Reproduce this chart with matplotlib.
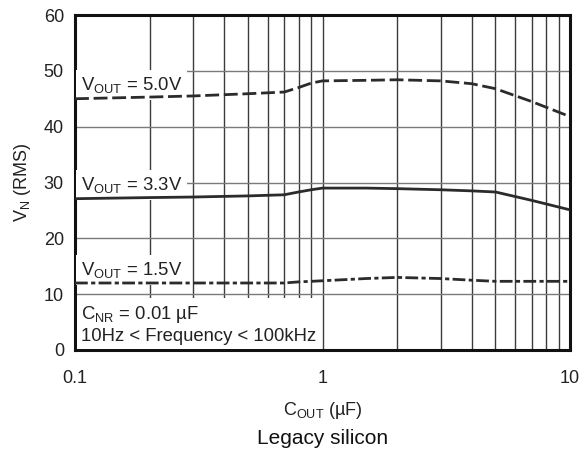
import matplotlib
matplotlib.use("Agg")
import matplotlib.pyplot as plt
from matplotlib.ticker import FixedLocator, NullFormatter, FixedFormatter

plt.rcParams['font.family'] = ['Liberation Sans', 'DejaVu Sans']
plt.rcParams['mathtext.fontset'] = 'custom'
plt.rcParams['mathtext.rm'] = 'Liberation Sans'
plt.rcParams['mathtext.it'] = 'Liberation Sans:italic'
plt.rcParams['mathtext.bf'] = 'Liberation Sans:bold'

# Data
cout = [0.1, 0.2, 0.3, 0.5, 0.7, 0.8, 0.9, 1.0, 1.5, 2.0, 3.0, 4.0, 5.0, 7.0, 10.0]
vn_50 = [45.0, 45.3, 45.5, 45.9, 46.2, 47.0, 47.8, 48.2, 48.3, 48.4, 48.2, 47.7, 46.8, 44.5, 41.8]
vn_33 = [27.1, 27.3, 27.4, 27.6, 27.8, 28.3, 28.7, 29.0, 29.0, 28.9, 28.7, 28.5, 28.3, 26.8, 25.1]
vn_15 = [12.0, 12.0, 12.0, 12.0, 12.0, 12.2, 12.3, 12.4, 12.8, 13.0, 12.8, 12.5, 12.3, 12.3, 12.3]

x_ticks = [0.1, 1, 10]
x_tick_labels = ['0.1', '1', '10']
y_ticks = [0, 10, 20, 30, 40, 50, 60]

fig = plt.figure(figsize=(5.79, 4.51), dpi=100)
ax = fig.add_axes([75/579, 101/451, 495/579, 335/451])

lc = '#2b2b2b'
ax.plot(cout, vn_50, color=lc, lw=2.0, ls=(0, (5, 1.7)), zorder=4)
ax.plot(cout, vn_33, color=lc, lw=2.0, ls='-', zorder=4)
ax.plot(cout, vn_15, color=lc, lw=2.0, ls=(0, (4.6, 1.2, 1.5, 1.2)), zorder=4)

ax.set_xscale('log')
ax.set_xlim(0.1, 10)
ax.set_ylim(0, 60)

minor = [m * d for d in (0.1, 1) for m in range(2, 10)]
ax.xaxis.set_major_locator(FixedLocator(x_ticks))
ax.xaxis.set_major_formatter(FixedFormatter(x_tick_labels))
ax.xaxis.set_minor_locator(FixedLocator(minor))
ax.xaxis.set_minor_formatter(NullFormatter())
ax.set_yticks(y_ticks)

ax.grid(True, which='both', axis='x', color='#3c3c3c', lw=1.0, zorder=1)
ax.grid(True, which='major', axis='y', color='#7a7a7a', lw=1.0, zorder=1)
ax.set_axisbelow(True)
ax.tick_params(which='both', length=0, labelsize=13, colors='#222222')
ax.tick_params(axis='x', pad=14.5)
ax.tick_params(axis='y', pad=8)

for s in ax.spines.values():
    s.set_linewidth(2.2)
    s.set_color('#111111')

ax.set_xlabel(r'C$_{\mathrm{OUT}}$ (µF)', fontsize=13, color='#222222', labelpad=9)
ax.set_ylabel(r'V$_{\mathrm{N}}$ (RMS)', fontsize=13, color='#222222', labelpad=8)

box = dict(fc='white', ec='none', pad=3.5)
tkw = dict(fontsize=13.3, color='#222222', bbox=box, zorder=3, va='baseline', ha='left')
ax.text(0.1055, 46.6, r'V$_{\mathrm{OUT}}$ = 5.0V', **tkw)
ax.text(0.1055, 28.7, r'V$_{\mathrm{OUT}}$ = 3.3V', **tkw)
ax.text(0.1055, 13.4, r'V$_{\mathrm{OUT}}$ = 1.5V', **tkw)
ax.text(0.1055, 1.6, 'C$_{\\mathrm{NR}}$ = 0.01 µF\n10Hz < Frequency < 100kHz',
        fontsize=13.3, color='#222222', bbox=dict(fc='white', ec='none', pad=3),
        zorder=3, va='baseline', ha='left', linespacing=1.25)

fig.text(0.5 * (75 + 570) / 579, 1 - 439/451, 'Legacy silicon', fontsize=15,
         color='#111111', ha='center', va='center')

fig.savefig('out.png', dpi=100)
